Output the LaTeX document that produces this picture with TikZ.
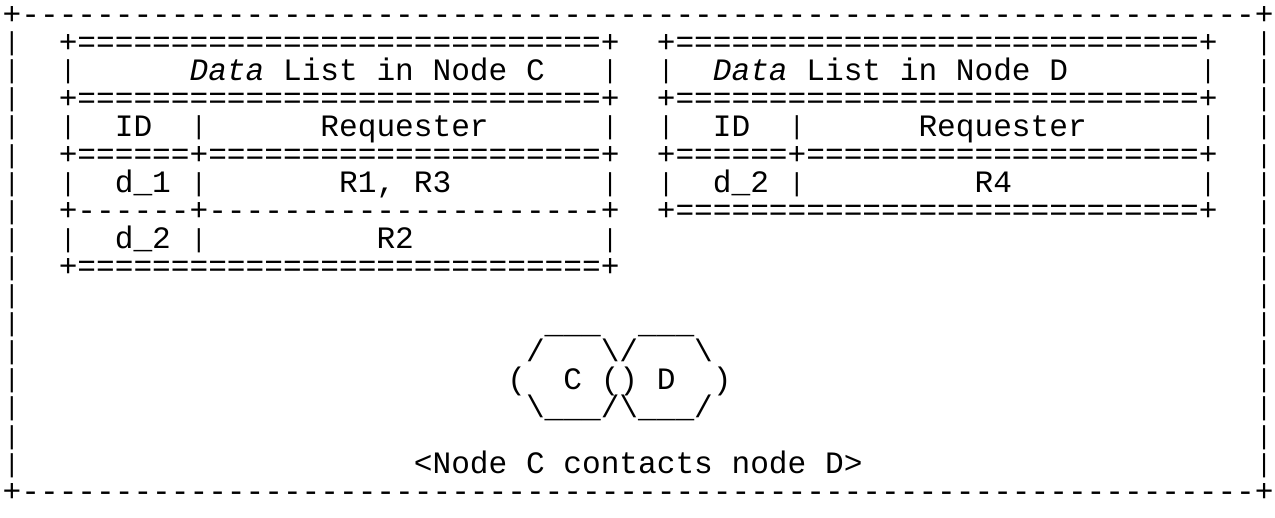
\documentclass[tikz,border=0pt]{standalone}
\usepackage{fontspec}
\setmonofont{Liberation Mono}
\ExplSyntaxOn
\cs_new:Npn \reptxt #1#2 { \prg_replicate:nn {#1} {#2} }
\ExplSyntaxOff
\newcommand\ascfont{\ttfamily\fontsize{31.15}{31.15}\selectfont}
\newcommand\barfont{\ttfamily\fontsize{26}{26}\selectfont}
% place text #4 as node #1 at column #2, row #3
\newcommand\ap[4]{\node[txt] (#1) at ({2.7+#2*18.69},{-(24+(#3-1)*28.1)}) {#4};}
% place a vertical bar as node #1 at column #2, row #3
\newcommand\bp[3]{\node[bar] (#1) at ({2.7+(#2+0.5)*18.69},{-(24+(#3-1)*28.1)+1.5}) {|};}
\begin{document}
\begin{tikzpicture}[x=1pt,y=1pt,
  txt/.style={font=\ascfont, anchor=base west, inner sep=0pt, outer sep=0pt, text=black},
  bar/.style={font=\barfont, anchor=base, inner sep=0pt, outer sep=0pt, text=black}]
\fill[white] (0,0) rectangle (1275,-517);
\useasboundingbox (0,0) rectangle (1275,-517);
% outer frame
\ap{top}{0}{1}{+\reptxt{66}{-}+}
\ap{bottom}{0}{18}{+\reptxt{66}{-}+}
\foreach \r in {2,...,17}{
  \bp{lb\r}{0}{\r}
  \bp{rb\r}{67}{\r}
}
% left table: Data list in node C
\ap{cT1}{3}{2}{+\reptxt{28}{=}+}
\bp{cL3}{3}{3}
\ap{cTitle}{10}{3}{\textit{Data} List in Node C}
\bp{cR3}{32}{3}
\ap{cT2}{3}{4}{+\reptxt{28}{=}+}
\bp{cL5}{3}{5}
\ap{cID}{6}{5}{ID}
\bp{cM5}{10}{5}
\ap{cReq}{17}{5}{Requester}
\bp{cR5}{32}{5}
\ap{cT3}{3}{6}{+\reptxt{6}{=}+\reptxt{21}{=}+}
\bp{cL7}{3}{7}
\ap{cd1}{6}{7}{d\_1}
\bp{cM7}{10}{7}
\ap{cr1}{18}{7}{R1, R3}
\bp{cR7}{32}{7}
\ap{cT4}{3}{8}{+\reptxt{6}{-}+\reptxt{21}{-}+}
\bp{cL9}{3}{9}
\ap{cd2}{6}{9}{d\_2}
\bp{cM9}{10}{9}
\ap{cr2}{20}{9}{R2}
\bp{cR9}{32}{9}
\ap{cT5}{3}{10}{+\reptxt{28}{=}+}
% right table: Data list in node D
\ap{dT1}{35}{2}{+\reptxt{28}{=}+}
\bp{dL3}{35}{3}
\ap{dTitle}{38}{3}{\textit{Data} List in Node D}
\bp{dR3}{64}{3}
\ap{dT2}{35}{4}{+\reptxt{28}{=}+}
\bp{dL5}{35}{5}
\ap{dID}{38}{5}{ID}
\bp{dM5}{42}{5}
\ap{dReq}{49}{5}{Requester}
\bp{dR5}{64}{5}
\ap{dT3}{35}{6}{+\reptxt{6}{=}+\reptxt{21}{=}+}
\bp{dL7}{35}{7}
\ap{dd2}{38}{7}{d\_2}
\bp{dM7}{42}{7}
\ap{dr4}{52}{7}{R4}
\bp{dR7}{64}{7}
\ap{dT4}{35}{8}{+\reptxt{28}{=}+}
% hexagons C and D
\ap{h1a}{29}{12}{\_\_\_}
\ap{h1b}{34}{12}{\_\_\_}
\ap{h2a}{28}{13}{/}
\ap{h2b}{32}{13}{\textbackslash/}
\ap{h2c}{37}{13}{\textbackslash}
\ap{h3a}{27}{14}{(}
\ap{nodeC}{30}{14}{C}
\ap{h3b}{32}{14}{()}
\ap{nodeD}{35}{14}{D}
\ap{h3c}{38}{14}{)}
\ap{h4}{28}{15}{\textbackslash\_\_\_/\textbackslash\_\_\_/}
% caption
\ap{caption}{22}{17}{<Node C contacts node D>}
\end{tikzpicture}
\end{document}
